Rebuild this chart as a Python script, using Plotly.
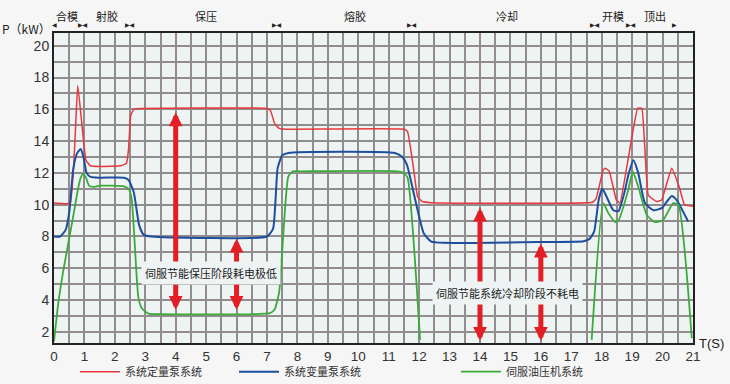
import plotly.graph_objects as go

# ---------------- data ----------------
red_t = [0, 0.53, 0.78, 1.05, 1.2, 1.5, 2.2, 2.38, 2.45, 2.52, 2.62, 2.8, 7.0, 7.12, 7.25, 7.4, 7.6,
         11.5, 11.62, 11.8, 11.95, 12.1, 12.4, 17.7, 17.82, 18.05, 18.12, 18.25, 18.48, 18.6,
         19.18, 19.32, 19.53, 19.8, 19.97, 20.3, 20.55, 20.72, 21.0]
red_v = [10.1, 10.1, 17.5, 12.8, 12.45, 12.4, 12.45, 12.6, 13.5, 15.6, 16.0, 16.05, 16.05, 15.9, 15.1, 14.8, 14.75,
         14.75, 14.6, 12.5, 10.5, 10.2, 10.13, 10.15, 10.4, 12.2, 12.3, 12.1, 10.3, 10.1,
         16.07, 16.07, 10.6, 10.2, 10.3, 12.3, 11.1, 10.0, 9.9]

blue_t = [0, 0.2, 0.38, 0.5, 0.63, 0.75, 0.88, 0.98, 1.07, 1.2, 1.5, 2.3, 2.45, 2.62, 2.8, 2.95, 3.2,
          7.0, 7.2, 7.35, 7.5, 7.7, 11.2, 11.45, 11.6, 12.15, 12.4, 12.8, 16.0, 17.4, 17.6, 17.75,
          17.9, 18.02, 18.15, 18.38, 18.55, 18.75, 18.88, 19.04, 19.2, 19.42, 19.7, 19.97, 20.3, 20.46, 20.84]
blue_v = [8.0, 8.0, 8.4, 9.5, 12.2, 13.2, 13.5, 12.9, 12.0, 11.75, 11.7, 11.7, 11.55, 10.8, 8.7, 8.1, 8.0,
          8.0, 8.5, 12.3, 13.1, 13.25, 13.25, 13.0, 12.5, 8.2, 7.68, 7.6, 7.65, 7.7, 7.85, 8.3,
          10.3, 11.0, 10.55, 9.65, 9.6, 10.8, 11.9, 12.8, 12.0, 10.1, 9.65, 9.78, 10.55, 10.3, 8.94]

green_t = [0, 0.14, 0.31, 0.63, 0.8, 0.88, 0.96, 1.05, 1.15, 1.3, 1.5, 2.3, 2.45, 2.55, 2.77, 2.88, 3.1, 3.5,
           7.1, 7.25, 7.4, 7.7, 7.85, 8.1, 11.3, 11.5, 11.62, 12.03, None,
           17.67, 18.05, 18.22, 18.45, 18.55, 18.87, 19.02, 19.2, 19.48, 19.75, 20.02, 20.35, 20.52, 20.96]
green_v = [1.4, 3.8, 5.9, 9.25, 11.1, 11.7, 11.94, 11.7, 11.2, 11.12, 11.2, 11.15, 11.0, 10.4, 4.2, 3.5, 3.15, 3.12,
           3.18, 3.4, 4.5, 11.77, 12.1, 12.1, 12.1, 12.0, 11.7, 1.5, None,
           1.5, 10.1, 9.47, 8.9, 9.0, 10.9, 12.08, 11.14, 9.36, 8.9, 9.04, 10.1, 9.99, 1.6]

series_names = ["系统定量泵系统", "系统变量泵系统", "伺服油压机系统"]
series_colors = ["#e8383d", "#1d4f9e", "#3aaa3a"]

x_ticks = list(range(0, 22))
y_ticks = list(range(2, 21, 2))

phase_names = ["合模", "射胶", "保压", "熔胶", "冷却", "开模", "顶出"]
phase_centers = [0.42, 1.73, 4.99, 9.89, 14.88, 18.38, 19.75]
phase_bounds = [0.94, 2.5, 7.32, 11.75, 17.78, 18.95]

arrow_t = [4, 6, 14, 16]
arrow_top = [15.8, 7.85, 9.8, 7.55]
arrow_bottom = [3.3, 3.3, 1.35, 1.35]

notes = ["伺服节能保压阶段耗电极低", "伺服节能系统冷却阶段不耗电"]
note_t = [5.15, 14.92]
note_v = [5.7, 4.45]

# ---------------- figure ----------------
CJK = "Noto Sans CJK SC"
fig = go.Figure()
all_t = [red_t, blue_t, green_t]
all_v = [red_v, blue_v, green_v]
widths = [1.5, 2.0, 1.8]
smooth = [0.3, 0.5, 0.5]
legends = ["legend", "legend2", "legend3"]
for i in range(3):
    fig.add_trace(go.Scatter(
        x=all_t[i], y=all_v[i], mode="lines", name=series_names[i],
        line=dict(color=series_colors[i], width=widths[i], shape="spline", smoothing=smooth[i]),
        connectgaps=False, legend=legends[i], hoverinfo="skip"))

grid_col = "#938c8c"
fig.update_xaxes(range=[0, 21], tickvals=x_ticks, showgrid=True, gridcolor=grid_col, gridwidth=1.5,
                 minor=dict(dtick=0.5, tick0=0, showgrid=True, gridcolor=grid_col, gridwidth=1.5),
                 showline=True, linecolor="#222", linewidth=2, mirror=True, zeroline=False,
                 ticks="", automargin=False, tickfont=dict(family="Liberation Sans", size=13.5, color="#333"))
fig.update_yaxes(range=[1.3, 20.8], tickvals=y_ticks, showgrid=True, gridcolor=grid_col, gridwidth=1.5,
                 minor=dict(dtick=1, tick0=0, showgrid=True, gridcolor=grid_col, gridwidth=1.5),
                 showline=True, linecolor="#222", linewidth=2, mirror=True, zeroline=False,
                 ticks="", automargin=False, tickfont=dict(family="Liberation Sans", size=14, color="#333"))

annotations = []
# arrows
for t, top, bot in zip(arrow_t, arrow_top, arrow_bottom):
    annotations.append(dict(x=t, y=top, ax=t, ay=bot, xref="x", yref="y", axref="x", ayref="y",
                            text="", showarrow=True, arrowhead=2, startarrowhead=2,
                            arrowside="end+start", arrowsize=0.55, startarrowsize=0.55,
                            arrowwidth=5, arrowcolor="#e31e24"))
# notes
for txt, t, v in zip(notes, note_t, note_v):
    annotations.append(dict(x=t, y=v, xref="x", yref="y", text=txt, showarrow=False,
                            font=dict(family=CJK, size=11, color="#222"),
                            bgcolor="#eef4f4", borderpad=3))
# phases
for name, c in zip(phase_names, phase_centers):
    annotations.append(dict(x=c, y=1.055, xref="x", yref="paper", yanchor="middle", text=name,
                            showarrow=False, font=dict(family=CJK, size=11, color="#222")))
for b in phase_bounds:
    annotations.append(dict(x=b, y=1.026, xref="x", yref="paper", yanchor="middle", text="▶◀",
                            showarrow=False, font=dict(family="DejaVu Sans", size=6, color="#222")))
annotations.append(dict(x=0, y=1.026, xref="x", yref="paper", yanchor="middle", text="◀", showarrow=False,
                        font=dict(family="DejaVu Sans", size=6, color="#222")))
annotations.append(dict(x=20.4, y=1.026, xref="x", yref="paper", yanchor="middle", text="▶", showarrow=False,
                        font=dict(family="DejaVu Sans", size=6, color="#222")))
# axis titles
annotations.append(dict(x=0, y=1.016, xref="paper", yref="paper", xanchor="right", yanchor="middle",
                        xshift=-1, text="P（kW）", showarrow=False,
                        font=dict(family=CJK, size=12, color="#222")))
annotations.append(dict(x=1, y=0, xref="paper", yref="paper", xanchor="left", yanchor="middle", xshift=4,
                        text="T(S)", showarrow=False, font=dict(family="Liberation Sans", size=13, color="#222")))

leg_common = dict(orientation="h", bgcolor="rgba(0,0,0,0)", borderwidth=0, itemwidth=40,
                  font=dict(family=CJK, size=11, color="#333"),
                  xref="container", yref="container", yanchor="middle", xanchor="left", y=0.032)
fig.update_layout(
    width=730, height=384,
    margin=dict(l=54, r=37, t=33, b=41, autoexpand=False),
    paper_bgcolor="#f6f6f6", plot_bgcolor="#eef4f4",
    showlegend=True,
    legend=dict(x=75 / 730, **leg_common),
    legend2=dict(x=234 / 730, **leg_common),
    legend3=dict(x=456 / 730, **leg_common),
    annotations=annotations,
)
fig.write_html("out.html", config={"displayModeBar": False},
               post_script="document.body.style.margin='0';document.body.style.padding='0';")
